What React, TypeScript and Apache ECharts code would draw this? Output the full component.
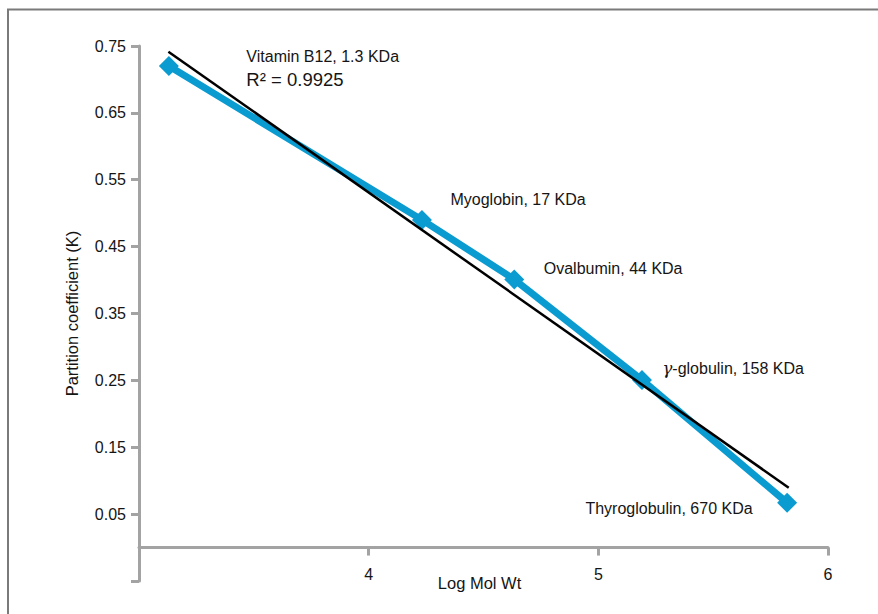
import React, { useEffect, useRef } from "react";
import * as echarts from "echarts";

const proteinLabels = [
  "Vitamin B12, 1.3 KDa",
  "Myoglobin, 17 KDa",
  "Ovalbumin, 44 KDa",
  "{g|γ}-globulin, 158 KDa",
  "Thyroglobulin, 670 KDa",
];
const logMolWt = [3.13, 4.232, 4.634, 5.19, 5.822];
const partitionK = [0.72, 0.49, 0.401, 0.2505, 0.067];
const trendX = [3.128, 5.829];
const trendY = [0.7415, 0.0894];
const rSquaredText = "R² = 0.9925";
const yTickMin = -0.05;
const yTickMax = 0.75;
const xTickMin = 3;
const xTickMax = 6;

const FONT = "Liberation Sans";
const TXT = "#151515";
const FS = 16;

// label placement [position, dx, dy]
const labelPlace: [string, number, number][] = [
  ["right", 67.5, 1.5],
  ["right", 18.5, -20],
  ["right", 19.5, -11],
  ["right", 10.5, -12],
  ["left", -24.5, 6],
];

export default function App() {
  const ref = useRef<HTMLDivElement>(null);
  useEffect(() => {
    if (!ref.current) return;
    const chart = echarts.init(ref.current, null, { renderer: "svg" });
    const data = logMolWt.map((x, i) => {
      const [pos, dx, dy] = labelPlace[i];
      const text =
        i === 0 ? `{a|${proteinLabels[0]}}\n{r|${rSquaredText}}` : proteinLabels[i];
      return {
        value: [x, partitionK[i]],
        label: {
          show: true,
          position: pos,
          distance: 0,
          offset: [dx, dy],
          formatter: text,
          color: TXT,
          fontFamily: FONT,
          fontSize: FS,
          align: pos === "left" ? "right" : "left",
          rich: {
            a: { fontFamily: FONT, fontSize: FS, color: TXT, lineHeight: 23 },
            r: { fontFamily: FONT, fontSize: 18.5, color: TXT, lineHeight: 23 },
            g: {
              fontFamily: "DejaVu Serif",
              fontStyle: "italic",
              fontSize: 16.5,
              color: TXT,
            },
          },
        },
      };
    });
    const axisColor = "#a3a3a3";
    chart.setOption({
      animation: false,
      backgroundColor: "#ffffff",
      grid: {
        left: 139,
        right: 50,
        top: 46,
        bottom: 33,
        containLabel: false,
        outerBoundsMode: "none",
      },
      xAxis: {
        type: "value",
        min: xTickMin,
        max: xTickMax,
        interval: 1,
        name: "Log Mol Wt",
        nameLocation: "middle",
        nameGap: -7,
        nameMoveOverlap: false,
        nameTextStyle: { fontFamily: FONT, fontSize: 16.5, color: TXT, padding: [0, 8, 0, 0] },
        axisLine: { show: true, onZero: true, lineStyle: { color: axisColor, width: 3 } },
        axisTick: { show: true, length: 8, lineStyle: { color: axisColor, width: 3 } },
        axisLabel: {
          margin: -15,
          fontFamily: FONT,
          fontSize: FS,
          color: TXT,
          formatter: (v: number) => (v <= xTickMin ? "" : String(v)),
        },
        splitLine: { show: false },
      },
      yAxis: {
        type: "value",
        min: yTickMin,
        max: yTickMax,
        interval: 0.1,
        name: "Partition coefficient (K)",
        nameLocation: "middle",
        nameGap: 59,
        nameMoveOverlap: false,
        nameRotate: 90,
        nameTextStyle: { fontFamily: FONT, fontSize: 16.5, color: TXT },
        axisLine: { show: true, onZero: false, lineStyle: { color: axisColor, width: 3 } },
        axisTick: { show: true, length: 8, lineStyle: { color: axisColor, width: 3 } },
        axisLabel: {
          margin: 13,
          fontFamily: FONT,
          fontSize: FS,
          color: TXT,
          formatter: (v: number) => (v < 0 ? "" : v.toFixed(2)),
        },
        splitLine: { show: false },
      },
      graphic: [
        {
          type: "polyline",
          shape: { points: [[8, 700], [8, 9.5], [900, 9.5]] },
          style: { stroke: "#7a7a7a", lineWidth: 2, fill: "none" },
          silent: true,
        },
      ],
      series: [
        {
          type: "line",
          data,
          symbol: "diamond",
          symbolSize: 20,
          lineStyle: { color: "#0a9bd0", width: 7 },
          itemStyle: { color: "#0a9bd0" },
          z: 2,
        },
        {
          type: "line",
          data: trendX.map((x, i) => [x, trendY[i]]),
          symbol: "none",
          lineStyle: { color: "#000000", width: 2.5 },
          z: 3,
        },
      ],
    });
    return () => chart.dispose();
  }, []);
  return (
    <div
      ref={ref}
      style={{ position: "fixed", left: 0, top: 0, width: 878, height: 614, background: "#fff" }}
    />
  );
}
